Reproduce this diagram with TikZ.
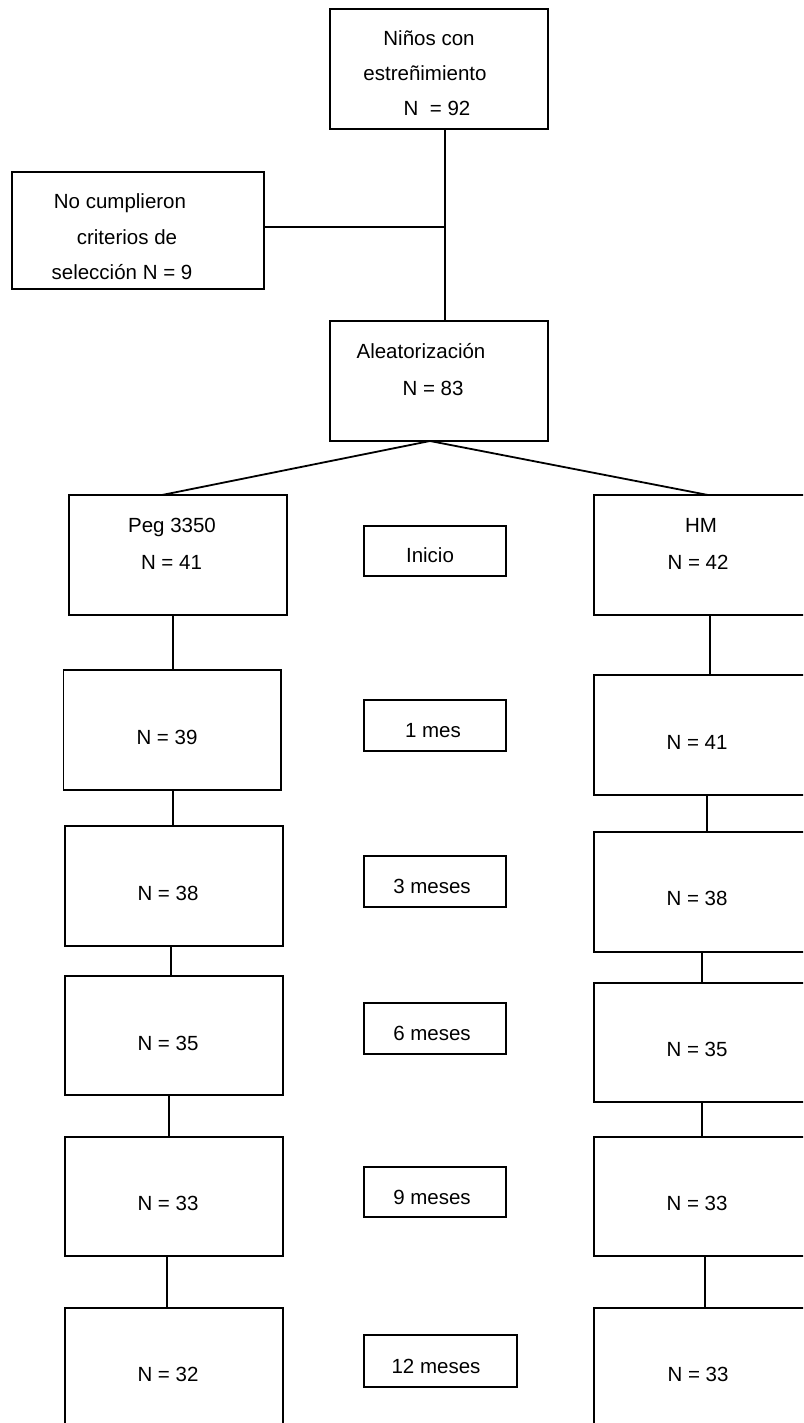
\documentclass[tikz,border=0pt]{standalone}
\usepackage{fontspec}
\setmainfont{Liberation Sans}
\begin{document}
\begin{tikzpicture}[x=1pt,y=-1pt,
  boxbase/.style={draw,line width=1.8pt,inner sep=0pt,outer sep=0pt,rectangle},
  txt/.style={inner sep=0pt,anchor=base,font=\fontsize{20.5}{24}\selectfont},
  con/.style={line width=1.8pt}]
\useasboundingbox (0,0) rectangle (803,1423);
\clip (0,0) rectangle (803,1423);
\newcommand\bx[5]{\node[boxbase,minimum width={#3-#2},minimum height={#5-#4}] (#1) at ({(#2+#3)/2},{(#4+#5)/2}) {};}
% boxes
\bx{top}{330}{548}{9.3}{128.7}
\bx{excl}{12}{264}{172}{289}
\bx{alea}{330}{548}{321}{441}
\bx{peg}{69}{287}{495}{615}
\bx{hm}{594}{812}{495}{615}
\bx{inicio}{364}{506}{526}{576}
\bx{L1}{63.5}{281}{670}{790}
\bx{mes1}{364}{506}{700}{751}
\bx{R1}{594}{812}{675}{795}
\bx{L2}{65}{283}{826}{946}
\bx{mes3}{364}{506}{856}{907}
\bx{R2}{594}{812}{832}{952}
\bx{L3}{65}{283}{976}{1095}
\bx{mes6}{364}{506}{1003}{1054}
\bx{R3}{594}{812}{983}{1102}
\bx{L4}{65}{283}{1137}{1256}
\bx{mes9}{364}{506}{1167}{1217}
\bx{R4}{594}{812}{1137}{1256}
\bx{L5}{65}{283}{1308}{1440}
\bx{mes12}{364}{517}{1335}{1387}
\bx{R5}{594}{812}{1308}{1440}
% texts
\node[txt] (t1) at (429,46) {Niños con};
\node[txt] (t2) at (425,81) {estreñimiento};
\node[txt] (t3) at (437,116) {N\ \ = 92};
\node[txt] (t4) at (120,209) {No cumplieron};
\node[txt] (t5) at (127,244) {criterios de};
\node[txt] (t6) at (122,279) {selección N = 9};
\node[txt] (t7) at (421,358) {Aleatorización};
\node[txt] (t8) at (433,395) {N = 83};
\node[txt] (t9) at (172,532) {Peg 3350};
\node[txt] (t10) at (171.5,569) {N = 41};
\node[txt] (t11) at (701,532) {HM};
\node[txt] (t12) at (698,569) {N = 42};
\node[txt] (t13) at (430,562) {Inicio};
\node[txt] (t14) at (167,744) {N = 39};
\node[txt] (t15) at (433,737) {1 mes};
\node[txt] (t16) at (697,749) {N = 41};
\node[txt] (t17) at (168,900) {N = 38};
\node[txt] (t18) at (432,893) {3 meses};
\node[txt] (t19) at (697,905) {N = 38};
\node[txt] (t20) at (168,1050) {N = 35};
\node[txt] (t21) at (432,1040) {6 meses};
\node[txt] (t22) at (697,1056) {N = 35};
\node[txt] (t23) at (168,1210) {N = 33};
\node[txt] (t24) at (432,1204) {9 meses};
\node[txt] (t25) at (697,1210) {N = 33};
\node[txt] (t26) at (168,1381) {N = 32};
\node[txt] (t27) at (436,1373) {12 meses};
\node[txt] (t28) at (698,1381) {N = 33};
% connector x positions
\coordinate (xa) at (445,0);
\coordinate (hl) at (445,227);
\coordinate (xl1) at (173,0);
\coordinate (xl2) at (173,0);
\coordinate (xl3) at (171,0);
\coordinate (xl4) at (169,0);
\coordinate (xl5) at (167,0);
\coordinate (xr1) at (710,0);
\coordinate (xr2) at (707,0);
\coordinate (xr3) at (702,0);
\coordinate (xr4) at (702,0);
\coordinate (xr5) at (705,0);
\coordinate (split) at (430,441);
\coordinate (pegtop) at (162,495);
\coordinate (hmtop) at (708,495);
% connectors
\draw[con] (top.south -| xa) -- (alea.north -| xa);
\draw[con] (excl.east |- hl) -- (hl);
\draw[con] (pegtop) -- (split) -- (hmtop);
\draw[con] (peg.south -| xl1) -- (L1.north -| xl1);
\draw[con] (L1.south -| xl2) -- (L2.north -| xl2);
\draw[con] (L2.south -| xl3) -- (L3.north -| xl3);
\draw[con] (L3.south -| xl4) -- (L4.north -| xl4);
\draw[con] (L4.south -| xl5) -- (L5.north -| xl5);
\draw[con] (hm.south -| xr1) -- (R1.north -| xr1);
\draw[con] (R1.south -| xr2) -- (R2.north -| xr2);
\draw[con] (R2.south -| xr3) -- (R3.north -| xr3);
\draw[con] (R3.south -| xr4) -- (R4.north -| xr4);
\draw[con] (R4.south -| xr5) -- (R5.north -| xr5);
\end{tikzpicture}
\end{document}
